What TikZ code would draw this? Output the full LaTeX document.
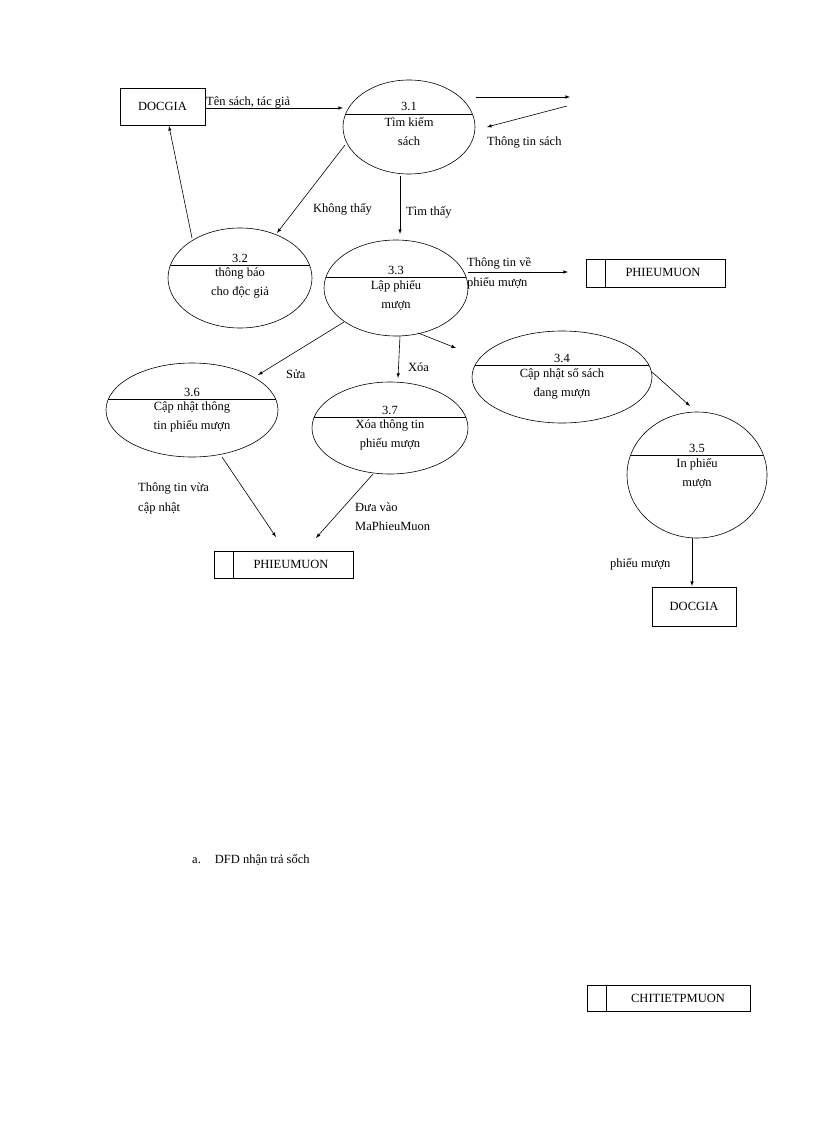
\documentclass[tikz,border=0pt]{standalone}
\usepackage{fontspec}
\setmainfont{Liberation Serif}
\begin{document}
\begin{tikzpicture}[x=1pt,y=-1pt,font=\fontsize{12.5}{14}\selectfont,
  ar/.style={-latex,line width=0.6pt},
  box/.style={draw,line width=0.6pt},
  lbl/.style={inner sep=0pt}]
\useasboundingbox (0,0) rectangle (816,1123);
% processes
\newcommand{\proc}[8]{% name, cx, cy, rx, ry, divider y, num, text
  \draw[line width=0.6pt] (#2,#3) ellipse [x radius=#4, y radius=#5];
  \coordinate (#1) at (#2,#3);
  \pgfmathsetmacro{\dy}{#6-#3}
  \pgfmathsetmacro{\dx}{#4*sqrt(1-(\dy/#5)^2)}
  \draw[line width=0.6pt] (#2-\dx,#6) -- (#2+\dx,#6);
  \node[lbl,anchor=base] at (#2,#6-3) {#7};
  \node[lbl,anchor=north,align=center,font=\fontsize{12.5}{19}\selectfont] at (#2,#6+3) {#8};
}
\proc{p31}{409}{127}{66}{47}{114}{3.1}{Tìm kiếm\\sách}
\proc{p32}{240}{278}{72}{50}{265}{3.2}{thông báo\\cho độc giả}
\proc{p33}{396}{288}{72}{48}{277}{3.3}{Lập phiếu\\mượn}
\proc{p34}{562}{377}{90}{46}{365}{3.4}{Cập nhật số sách\\đang mượn}
\proc{p35}{697}{475}{70}{63}{455}{3.5}{In phiếu\\mượn}
\proc{p36}{192}{410}{86}{47}{399}{3.6}{Cập nhật thông\\tin phiếu mượn}
\proc{p37}{390}{428}{78}{46}{417}{3.7}{Xóa thông tin\\phiếu mượn}
% entities
\node[box,minimum width=85,minimum height=37,inner sep=0] (dg1) at (162.5,106.5) {DOCGIA};
\node[box,minimum width=84,minimum height=39,inner sep=0] (dg2) at (694,606.5) {DOCGIA};
% stores
\draw[box] (586,259) rectangle (725,287) (605,259) -- (605,287);
\node[lbl] (pm1) at (663,272) {PHIEUMUON};
\draw[box] (214,551) rectangle (353,578) (233,551) -- (233,578);
\node[lbl] (pm2) at (291,564) {PHIEUMUON};
\draw[box] (587,985) rectangle (750,1011) (606,985) -- (606,1011);
\node[lbl] (ct) at (678,998) {CHITIETPMUON};
% free ends
\coordinate (o1) at (570,97); \coordinate (i1) at (567,106);
\coordinate (o3) at (456,348);
% flows
\draw[ar] (205,108) -- (343,108);
\node[lbl,anchor=base west] at (206,106) {Tên sách, tác giả};
\draw[ar] (476,97) -- (o1);
\draw[ar] (i1) -- (487,127);
\node[lbl,anchor=base west] at (487,146) {Thông tin sách};
\draw[ar] (345,145) -- (277,233);
\node[lbl,anchor=base west] at (313,213) {Không thấy};
\draw[ar] (400,176) -- (400,234);
\node[lbl,anchor=base west] at (406,216) {Tìm thấy};
\draw[ar] (192,238) -- (169,126);
\draw[ar] (468,272) -- (568,272);
\node[lbl,anchor=base west] at (467,266) {Thông tin về};
\node[lbl,anchor=base west] at (467,286) {phiếu mượn};
\draw[ar] (344,322) -- (258,375);
\node[lbl,anchor=base west] at (286,378) {Sửa};
\draw[ar] (400,336) -- (398,378);
\node[lbl,anchor=base west] at (408,371) {Xóa};
\draw[ar] (418,333) -- (o3);
\draw[ar] (652,372) -- (690,406);
\draw[ar] (692,538) -- (692,586);
\node[lbl,anchor=base west] at (610,567) {phiếu mượn};
\draw[ar] (222,457) -- (276,537);
\node[lbl,anchor=base west] at (138,491) {Thông tin vừa};
\node[lbl,anchor=base west] at (138,511) {cập nhật};
\draw[ar] (373,474) -- (316,538);
\node[lbl,anchor=base west] at (355,511) {Đưa vào};
\node[lbl,anchor=base west] at (355,530) {MaPhieuMuon};
\node[lbl,anchor=base west] at (192,863) {a.\hspace{14pt}DFD nhận trả sổch};
\end{tikzpicture}
\end{document}
